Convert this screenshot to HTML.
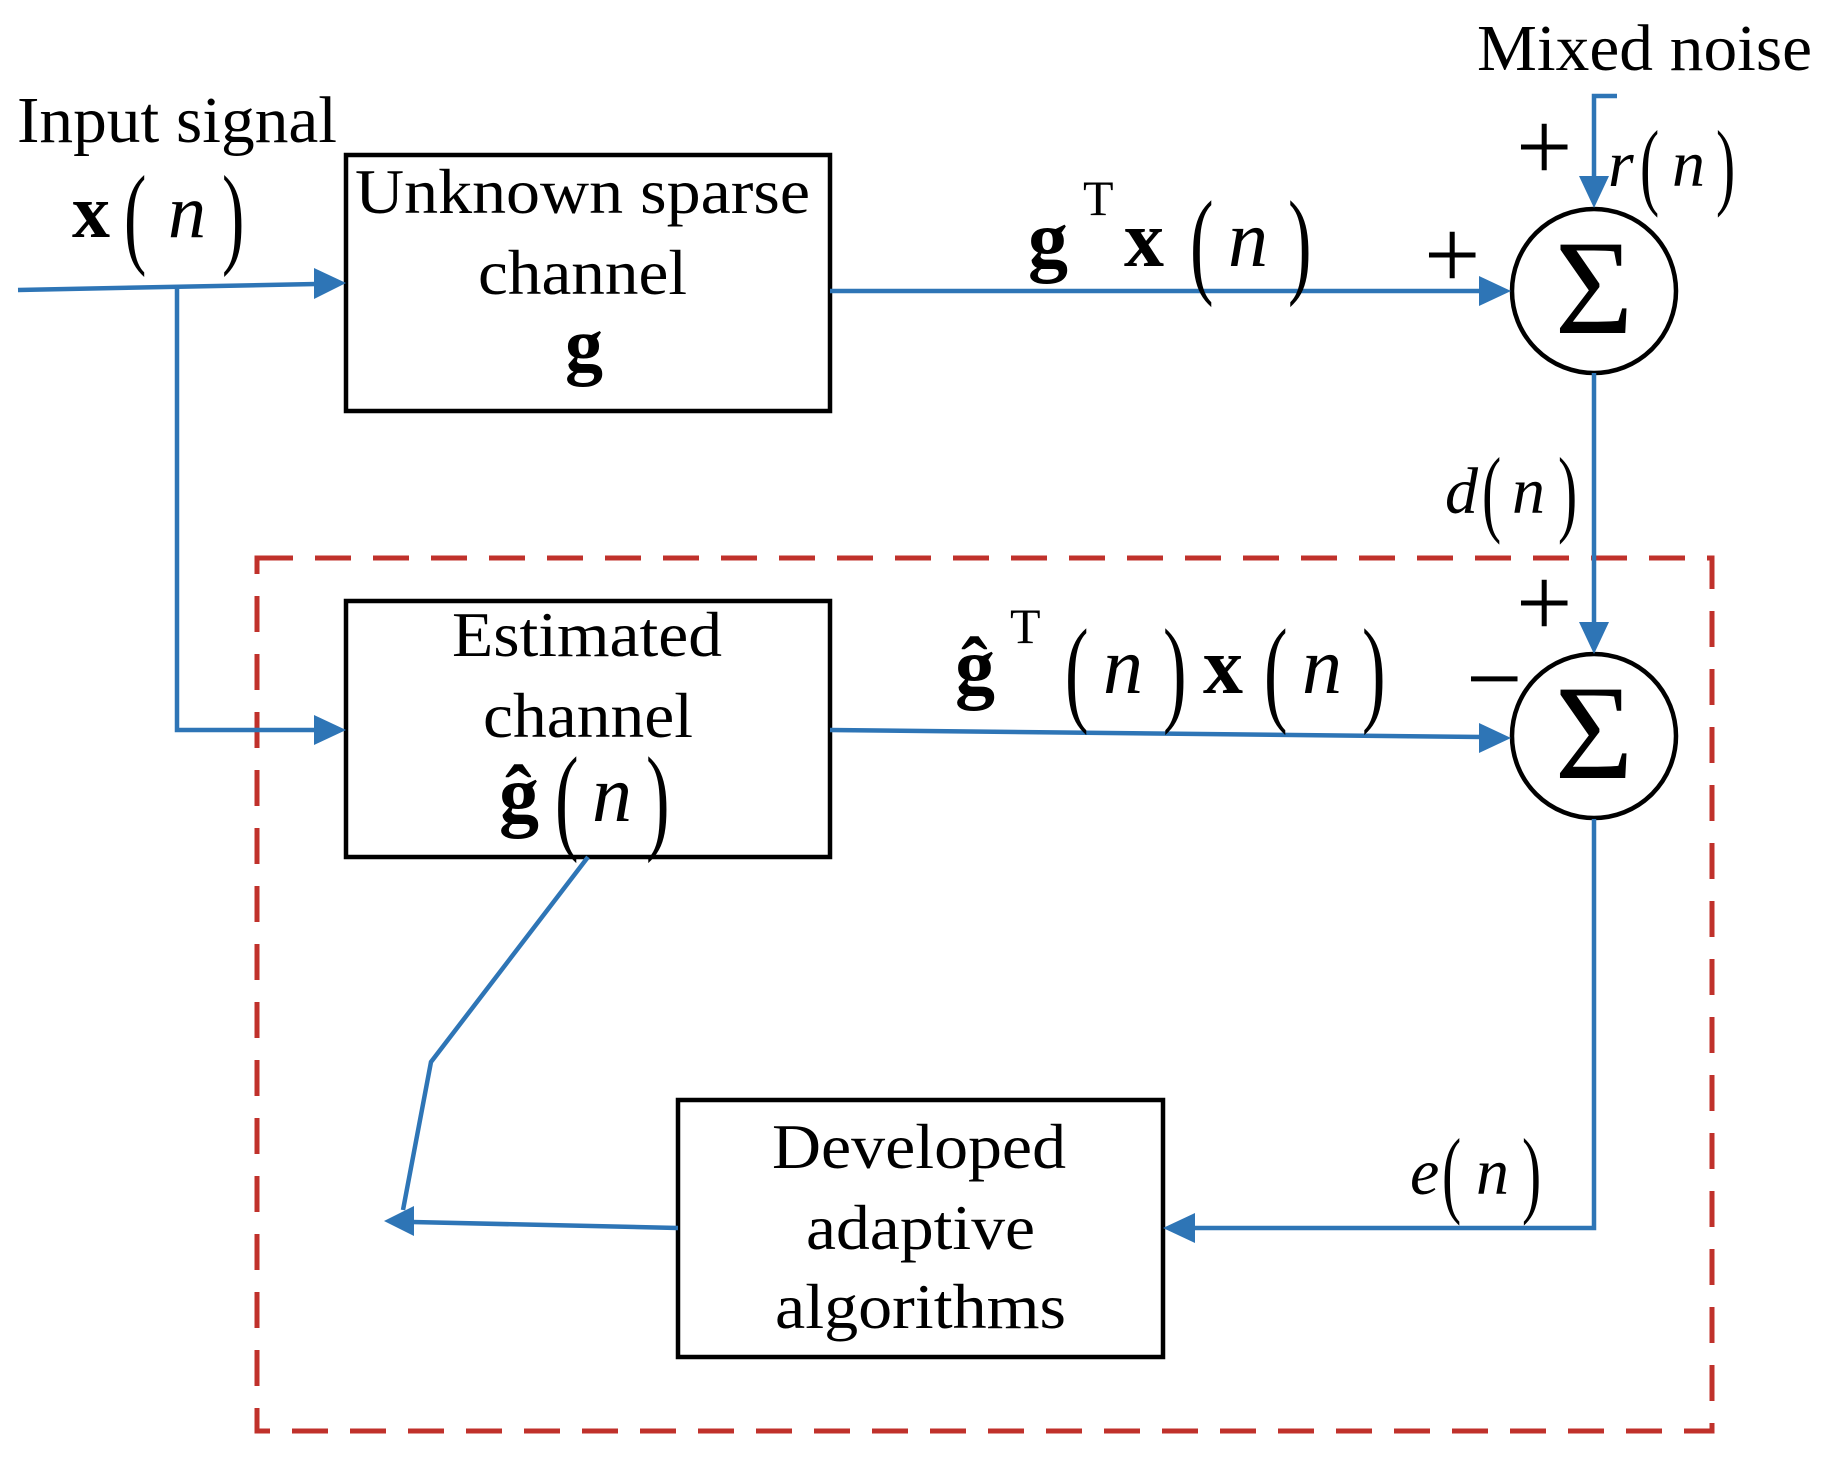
<!DOCTYPE html>
<html><head><meta charset="utf-8"><style>
html,body{margin:0;padding:0;background:#fff;}
svg{display:block;}
text{font-family:"Liberation Serif",serif;fill:#000;}
.b{font-weight:bold;}
.i{font-style:italic;}
</style></head><body>
<svg width="1826" height="1459" viewBox="0 0 1826 1459" xmlns="http://www.w3.org/2000/svg">
<!-- dashed rect -->
<rect x="257" y="558" width="1455" height="873" fill="none" stroke="#c0312b" stroke-width="5" stroke-dasharray="36,22"/>
<!-- boxes -->
<rect x="346" y="155" width="484" height="256" fill="#fff" stroke="#000" stroke-width="4.5"/>
<rect x="346" y="601" width="484" height="256" fill="#fff" stroke="#000" stroke-width="4.5"/>
<rect x="678" y="1100" width="485" height="257" fill="#fff" stroke="#000" stroke-width="4.5"/>
<!-- circles -->
<circle cx="1594" cy="291" r="82" fill="#fff" stroke="#000" stroke-width="4.5"/>
<circle cx="1594" cy="736" r="82" fill="#fff" stroke="#000" stroke-width="4.5"/>
<text x="1594" y="333" font-size="135" text-anchor="middle">Σ</text>
<text x="1594" y="778" font-size="135" text-anchor="middle">Σ</text>
<!-- blue lines -->
<g stroke="#2e75b6" stroke-width="4.5" fill="none">
<polyline points="18,290 316,284"/>
<polyline points="177,285 177,730 316,730"/>
<polyline points="830,291 1482,291"/>
<polyline points="1617,96 1594,96 1594,178"/>
<polyline points="1594,373 1594,624"/>
<polyline points="830,730 1482,737"/>
<polyline points="1594,819 1594,1228 1193,1228"/>
<polyline points="678,1228 412,1222"/>
<polyline points="588,857 431,1062 403,1210"/>
</g>
<g fill="#2e75b6">
<polygon points="346,283 314,268 314,299"/>
<polygon points="346,730 314,715 314,745"/>
<polygon points="1511,291 1479,276 1479,306"/>
<polygon points="1594,208 1579,176 1609,176"/>
<polygon points="1594,654 1579,622 1609,622"/>
<polygon points="1511,738 1479,723 1479,753"/>
<polygon points="1163,1228 1195,1213 1195,1243"/>
<polygon points="384,1221 414,1206 414,1236"/>
</g>
<!-- labels -->
<text x="1477" y="70" font-size="66" textLength="335" lengthAdjust="spacingAndGlyphs">Mixed noise</text>
<text x="17" y="142" font-size="66" textLength="320" lengthAdjust="spacingAndGlyphs">Input signal</text>
<text x="72" y="237" font-size="76" class="b">x</text>
<text x="124" y="253" font-size="112" transform="translate(124,253) scale(0.6,1) translate(-124,-253)">(</text>
<text x="168" y="237" font-size="76" class="i">n</text>
<text x="222" y="253" font-size="112" transform="translate(222,253) scale(0.6,1) translate(-222,-253)">)</text>

<text x="355" y="213" font-size="64" textLength="455" lengthAdjust="spacingAndGlyphs">Unknown sparse</text>
<text x="478" y="294" font-size="64" textLength="209" lengthAdjust="spacingAndGlyphs">channel</text>
<text x="565" y="370" font-size="76" class="b">g</text>

<text x="1028" y="266" font-size="80" class="b">g</text>
<text x="1083" y="215" font-size="50">T</text>
<text x="1124" y="266" font-size="80" class="b">x</text>
<text x="1190" y="282" font-size="118" transform="translate(1190,282) scale(0.6,1) translate(-1190,-282)">(</text>
<text x="1228" y="266" font-size="80" class="i">n</text>
<text x="1288" y="282" font-size="118" transform="translate(1288,282) scale(0.6,1) translate(-1288,-282)">)</text>

<text x="1424" y="288" font-size="100">+</text>
<text x="1516" y="180" font-size="100">+</text>
<text x="1608" y="186" font-size="66" class="i">r</text>
<text x="1640" y="197" font-size="96" transform="translate(1640,197) scale(0.6,1) translate(-1640,-197)">(</text>
<text x="1672" y="186" font-size="66" class="i">n</text>
<text x="1716" y="197" font-size="96" transform="translate(1716,197) scale(0.6,1) translate(-1716,-197)">)</text>

<text x="1445" y="513" font-size="66" class="i">d</text>
<text x="1482" y="524" font-size="96" transform="translate(1482,524) scale(0.6,1) translate(-1482,-524)">(</text>
<text x="1512" y="513" font-size="66" class="i">n</text>
<text x="1558" y="524" font-size="96" transform="translate(1558,524) scale(0.6,1) translate(-1558,-524)">)</text>

<text x="1516" y="636" font-size="100">+</text>
<text x="1466" y="712" font-size="100">−</text>

<text x="955" y="693" font-size="80" class="b">ĝ</text>
<text x="1010" y="643" font-size="50">T</text>
<text x="1065" y="710" font-size="118" transform="translate(1065,710) scale(0.6,1) translate(-1065,-710)">(</text>
<text x="1103" y="693" font-size="80" class="i">n</text>
<text x="1163" y="710" font-size="118" transform="translate(1163,710) scale(0.6,1) translate(-1163,-710)">)</text>
<text x="1203" y="693" font-size="80" class="b">x</text>
<text x="1264" y="710" font-size="118" transform="translate(1264,710) scale(0.6,1) translate(-1264,-710)">(</text>
<text x="1302" y="693" font-size="80" class="i">n</text>
<text x="1362" y="710" font-size="118" transform="translate(1362,710) scale(0.6,1) translate(-1362,-710)">)</text>

<text x="452" y="656" font-size="64" textLength="270" lengthAdjust="spacingAndGlyphs">Estimated</text>
<text x="483" y="737" font-size="64" textLength="210" lengthAdjust="spacingAndGlyphs">channel</text>
<text x="499" y="821" font-size="80" class="b">ĝ</text>
<text x="555" y="838" font-size="118" transform="translate(555,838) scale(0.6,1) translate(-555,-838)">(</text>
<text x="592" y="821" font-size="80" class="i">n</text>
<text x="646" y="838" font-size="118" transform="translate(646,838) scale(0.6,1) translate(-646,-838)">)</text>

<text x="1410" y="1194" font-size="66" class="i">e</text>
<text x="1442" y="1205" font-size="96" transform="translate(1442,1205) scale(0.6,1) translate(-1442,-1205)">(</text>
<text x="1476" y="1194" font-size="66" class="i">n</text>
<text x="1522" y="1205" font-size="96" transform="translate(1522,1205) scale(0.6,1) translate(-1522,-1205)">)</text>

<text x="772" y="1168" font-size="64" textLength="294" lengthAdjust="spacingAndGlyphs">Developed</text>
<text x="806" y="1249" font-size="64" textLength="229" lengthAdjust="spacingAndGlyphs">adaptive</text>
<text x="775" y="1328" font-size="64" textLength="291" lengthAdjust="spacingAndGlyphs">algorithms</text>
</svg>
</body></html>
